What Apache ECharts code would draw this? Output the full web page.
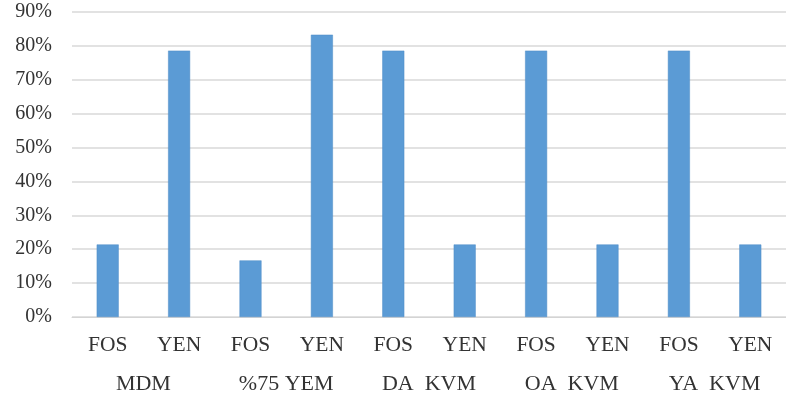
<!DOCTYPE html>
<html>
<head>
<meta charset="utf-8">
<script src="https://cdn.jsdelivr.net/npm/echarts@6/dist/echarts.min.js"></script>
<style>
  html, body { margin: 0; padding: 0; background: #ffffff; }
  #chart { width: 786px; height: 401px; }
</style>
</head>
<body>
<div id="chart"></div>
<script>
// Inner categories (one bar each) and outer group labels
const barLabels = ['FOS', 'YEN', 'FOS', 'YEN', 'FOS', 'YEN', 'FOS', 'YEN', 'FOS', 'YEN'];
const groupLabels = ['MDM', '%75 YEM', 'DA  KVM', 'OA  KVM', 'YA  KVM'];
// Share of each category, in percent
const values = [21.4, 78.6, 16.7, 83.3, 78.6, 21.4, 78.6, 21.4, 78.6, 21.4];
const yTicks = { min: 0, max: 90, interval: 10 };

const textFont = 'Liberation Serif';
const textColor = '#333333';

const chart = echarts.init(document.getElementById('chart'), null, { renderer: 'canvas' });
chart.setOption({
  animation: false,
  backgroundColor: '#ffffff',
  grid: { left: 72, right: -12, top: 12, bottom: 84, containLabel: false },
  xAxis: [
    {
      type: 'category',
      data: barLabels,
      position: 'bottom',
      axisLine: { show: true, lineStyle: { color: '#d4d4d4', width: 1 } },
      axisTick: { show: false },
      axisLabel: { color: textColor, fontFamily: textFont, fontSize: 21.5, margin: 17 }
    },
    {
      type: 'category',
      data: groupLabels,
      position: 'bottom',
      offset: 56,
      axisLine: { show: false },
      axisTick: { show: false },
      axisLabel: { color: textColor, fontFamily: textFont, fontSize: 22, margin: 0 }
    }
  ],
  yAxis: {
    type: 'value',
    min: yTicks.min,
    max: yTicks.max,
    interval: yTicks.interval,
    axisLine: { show: false },
    axisTick: { show: false },
    splitLine: { lineStyle: { color: '#d9d9d9', width: 1.5 } },
    axisLabel: {
      color: textColor, fontFamily: textFont, fontSize: 20, margin: 20,
      formatter: v => v + '%'
    }
  },
  series: [{
    type: 'bar',
    xAxisIndex: 0,
    data: values,
    barWidth: 22,
    itemStyle: { color: '#5b9bd5', borderColor: '#4f8cc6', borderWidth: 0.5 }
  }]
});
</script>
</body>
</html>
